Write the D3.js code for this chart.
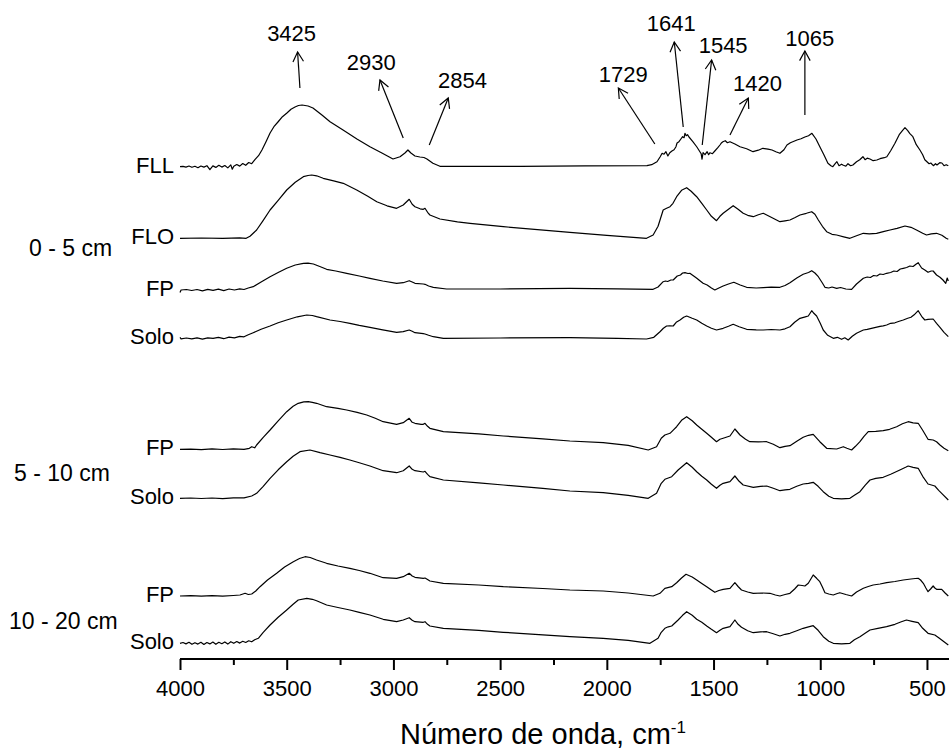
<!DOCTYPE html>
<html>
<head>
<meta charset="utf-8">
<script src="https://cdn.jsdelivr.net/npm/d3@7"></script>
<style>
  html, body { margin: 0; padding: 0; background: #fff; }
  svg { display: block; }
  text { font-family: "Liberation Sans", Arial, sans-serif; fill: #000; }
</style>
</head>
<body>
<svg id="chart" width="949" height="749"></svg>
<script>
// ---------------- DATA ----------------
const traceNames = ["FLL", "FLO", "FP", "Solo", "FP", "Solo", "FP", "Solo"];
const traceOffsets = [4.933, 4.217, 3.70, 3.217, 2.107, 1.617, 0.64, 0.167];
const groupLabels = ["0 - 5 cm", "5 - 10 cm", "10 - 20 cm"];
const majorTicks = [4000, 3500, 3000, 2500, 2000, 1500, 1000, 500];
const minorTicks = [3750, 3250, 2750, 2250, 1750, 1250, 750];
const peakLabels = [3425, 2930, 2854, 1729, 1641, 1545, 1420, 1065];

const specFLL = [[4000,0],[3986,0.004],[3972,-0.004],[3958,0.007],[3944,-0.006],[3930,0.004],[3916,-0.01],[3902,0.007],[3888,-0.004],[3874,0.01],[3860,-0.03],[3846,0.008],[3832,-0.007],[3818,0.014],[3804,-0.004],[3790,0.012],[3776,-0.012],[3762,0.018],[3755,-0.025],[3748,0.004],[3734,0.022],[3720,0.006],[3706,0.032],[3692,0.014],[3678,0.042],[3664,0.03],[3649,0.07],[3632,0.11],[3616,0.167],[3597,0.25],[3578,0.337],[3560,0.40],[3541,0.447],[3520,0.50],[3499,0.537],[3480,0.575],[3461,0.597],[3445,0.612],[3428,0.617],[3400,0.607],[3377,0.587],[3335,0.517],[3297,0.45],[3236,0.367],[3171,0.277],[3110,0.20],[3054,0.137],[3002,0.077],[2969,0.10],[2946,0.137],[2932,0.167],[2918,0.137],[2899,0.107],[2876,0.097],[2857,0.092],[2843,0.077],[2815,0.034],[2782,0.004],[2600,0.003],[2407,0.004],[2100,0.008],[1812,0.01],[1790,0.02],[1765,0.05],[1750,0.10],[1741,0.134],[1732,0.125],[1723,0.15],[1714,0.107],[1705,0.14],[1695,0.157],[1685,0.17],[1676,0.20],[1671,0.237],[1662,0.25],[1653,0.277],[1645,0.30],[1638,0.29],[1634,0.334],[1628,0.31],[1622,0.32],[1615,0.297],[1597,0.25],[1578,0.197],[1564,0.15],[1558,0.13],[1554,0.075],[1549,0.14],[1540,0.12],[1530,0.15],[1523,0.12],[1517,0.14],[1505,0.13],[1494,0.157],[1480,0.19],[1470,0.217],[1462,0.24],[1456,0.25],[1445,0.26],[1435,0.24],[1423,0.25],[1400,0.227],[1376,0.20],[1345,0.18],[1315,0.15],[1290,0.165],[1269,0.184],[1245,0.175],[1226,0.167],[1208,0.15],[1189,0.134],[1170,0.17],[1156,0.217],[1140,0.24],[1109,0.267],[1090,0.28],[1072,0.297],[1055,0.31],[1039,0.334],[1020,0.277],[1002,0.20],[983,0.12],[964,0.034],[950,0.01],[941,0.0],[930,0.03],[922,0.05],[912,0.01],[900,0.025],[894,0.017],[880,0.005],[870,0.03],[858,0.01],[847,0.017],[830,0.05],[815,0.07],[800,0.10],[790,0.07],[780,0.085],[767,0.077],[752,0.06],[735,0.067],[720,0.08],[700,0.09],[688,0.10],[670,0.16],[650,0.234],[630,0.32],[615,0.36],[603,0.39],[590,0.36],[580,0.33],[566,0.30],[550,0.22],[533,0.167],[520,0.12],[510,0.07],[500,0.05],[490,0.03],[482,0.037],[470,0.01],[460,0.03],[453,0.017],[440,0.04],[430,0.037],[420,0.01],[410,0.02],[400,0.01]];

const specFLO = [[4000,0],[3900,0.003],[3800,0.0],[3720,0.005],[3690,0.0],[3672,0.02],[3641,0.083],[3610,0.18],[3578,0.283],[3540,0.38],[3500,0.483],[3460,0.56],[3422,0.616],[3400,0.628],[3383,0.633],[3360,0.625],[3329,0.60],[3280,0.575],[3235,0.55],[3172,0.483],[3120,0.42],[3078,0.366],[3030,0.325],[2985,0.30],[2954,0.333],[2926,0.39],[2912,0.34],[2899,0.316],[2875,0.295],[2860,0.29],[2852,0.30],[2840,0.26],[2829,0.233],[2782,0.193],[2700,0.165],[2641,0.15],[2485,0.116],[2173,0.06],[2000,0.03],[1814,0.0],[1783,0.033],[1760,0.12],[1736,0.283],[1720,0.30],[1704,0.316],[1690,0.35],[1673,0.416],[1650,0.48],[1626,0.506],[1605,0.47],[1579,0.416],[1555,0.35],[1532,0.283],[1510,0.22],[1486,0.176],[1470,0.22],[1455,0.25],[1430,0.29],[1408,0.326],[1385,0.29],[1361,0.25],[1340,0.23],[1314,0.216],[1290,0.235],[1267,0.25],[1230,0.21],[1189,0.166],[1165,0.175],[1142,0.183],[1120,0.205],[1095,0.233],[1065,0.25],[1040,0.266],[1025,0.24],[1009,0.183],[990,0.12],[970,0.066],[945,0.04],[923,0.033],[890,0.015],[861,0.0],[830,0.025],[798,0.05],[770,0.045],[736,0.05],[700,0.07],[673,0.083],[640,0.10],[603,0.123],[575,0.11],[549,0.083],[520,0.05],[502,0.033],[480,0.045],[455,0.05],[430,0.03],[410,0.0],[400,-0.01]];

const specFP1 = [[4000,-0.025],[3995,0.0],[3970,0.005],[3945,-0.005],[3920,0.005],[3895,-0.008],[3870,0.006],[3845,-0.004],[3820,0.008],[3795,-0.006],[3770,0.01],[3745,0.0],[3720,0.012],[3700,0.005],[3680,0.02],[3657,0.033],[3620,0.08],[3578,0.133],[3540,0.175],[3500,0.217],[3460,0.25],[3422,0.267],[3400,0.268],[3375,0.26],[3345,0.235],[3313,0.207],[3270,0.19],[3219,0.167],[3160,0.14],[3110,0.117],[3050,0.09],[2985,0.067],[2954,0.073],[2926,0.093],[2912,0.08],[2899,0.067],[2860,0.06],[2852,0.057],[2835,0.04],[2813,0.027],[2751,0.01],[2500,0.01],[2173,0.017],[1950,0.012],[1783,0.007],[1760,0.03],[1736,0.083],[1725,0.09],[1715,0.085],[1700,0.10],[1689,0.10],[1670,0.14],[1655,0.15],[1645,0.17],[1634,0.173],[1620,0.165],[1611,0.167],[1580,0.12],[1549,0.067],[1530,0.05],[1510,0.02],[1494,0.0],[1475,0.02],[1455,0.04],[1430,0.06],[1405,0.077],[1375,0.05],[1345,0.027],[1300,0.02],[1267,0.023],[1230,0.028],[1189,0.027],[1165,0.045],[1142,0.073],[1110,0.12],[1080,0.157],[1055,0.175],[1040,0.193],[1025,0.17],[1009,0.133],[990,0.07],[978,0.027],[960,0.02],[945,0.03],[923,0.017],[905,0.025],[880,0.01],[853,0.007],[830,0.06],[798,0.117],[780,0.13],[765,0.125],[750,0.145],[735,0.14],[720,0.16],[705,0.155],[689,0.167],[670,0.175],[655,0.19],[640,0.185],[625,0.21],[611,0.217],[595,0.225],[580,0.24],[565,0.235],[550,0.26],[541,0.273],[525,0.22],[510,0.2],[495,0.177],[480,0.19],[471,0.19],[455,0.15],[439,0.127],[425,0.10],[412,0.067],[405,0.12],[400,0.09]];

const specSolo1 = [[4000,0.01],[3995,-0.005],[3970,0.003],[3945,-0.006],[3920,0.004],[3895,-0.008],[3870,0.005],[3845,0.0],[3820,0.01],[3795,-0.004],[3770,0.012],[3745,0.005],[3720,0.02],[3700,0.015],[3680,0.035],[3657,0.056],[3620,0.09],[3578,0.123],[3540,0.155],[3500,0.183],[3450,0.215],[3406,0.233],[3380,0.228],[3360,0.216],[3297,0.183],[3250,0.168],[3204,0.15],[3160,0.13],[3110,0.11],[3050,0.085],[2985,0.06],[2954,0.066],[2926,0.083],[2912,0.07],[2899,0.056],[2860,0.046],[2852,0.043],[2835,0.03],[2813,0.016],[2766,0.0],[2500,0.003],[2173,0.006],[1950,0.0],[1814,-0.007],[1780,0.01],[1751,0.066],[1735,0.10],[1720,0.123],[1705,0.125],[1689,0.123],[1675,0.16],[1657,0.183],[1640,0.21],[1626,0.223],[1600,0.2],[1579,0.183],[1555,0.15],[1532,0.123],[1510,0.1],[1486,0.083],[1455,0.10],[1430,0.12],[1408,0.14],[1380,0.115],[1345,0.09],[1300,0.085],[1267,0.083],[1230,0.088],[1189,0.083],[1165,0.095],[1142,0.116],[1120,0.16],[1095,0.20],[1070,0.215],[1056,0.223],[1040,0.276],[1030,0.25],[1017,0.223],[1000,0.15],[986,0.083],[965,0.03],[939,0.0],[920,0.01],[900,-0.01],[885,0.005],[869,-0.017],[850,0.02],[830,0.05],[798,0.083],[780,0.09],[760,0.1],[740,0.11],[720,0.12],[705,0.125],[689,0.133],[670,0.15],[650,0.155],[630,0.17],[611,0.183],[590,0.2],[575,0.21],[560,0.235],[541,0.276],[525,0.22],[510,0.183],[495,0.19],[471,0.193],[455,0.15],[439,0.11],[420,0.06],[400,0.016]];

const specFP2 = [[4000,0],[3950,0.002],[3900,-0.003],[3850,0.004],[3800,-0.002],[3750,0.004],[3700,0.0],[3675,0.01],[3664,0.026],[3650,0.015],[3641,0.043],[3610,0.12],[3578,0.193],[3540,0.285],[3500,0.376],[3470,0.43],[3446,0.46],[3420,0.474],[3399,0.476],[3380,0.47],[3360,0.46],[3313,0.426],[3260,0.41],[3219,0.393],[3170,0.37],[3125,0.343],[3085,0.31],[3048,0.276],[2985,0.25],[2954,0.266],[2926,0.31],[2912,0.27],[2899,0.26],[2870,0.25],[2860,0.25],[2852,0.26],[2840,0.23],[2829,0.21],[2766,0.176],[2600,0.155],[2485,0.133],[2300,0.105],[2173,0.083],[2017,0.066],[1900,0.04],[1806,-0.007],[1767,0.026],[1745,0.11],[1728,0.143],[1704,0.16],[1690,0.19],[1673,0.226],[1650,0.29],[1626,0.326],[1600,0.285],[1579,0.243],[1555,0.2],[1532,0.16],[1510,0.12],[1486,0.076],[1470,0.1],[1455,0.11],[1423,0.133],[1400,0.203],[1376,0.143],[1350,0.1],[1330,0.076],[1290,0.075],[1251,0.076],[1220,0.05],[1189,0.016],[1165,0.03],[1142,0.036],[1110,0.08],[1080,0.12],[1055,0.14],[1033,0.15],[1002,0.076],[970,0.01],[923,0.003],[892,0.026],[875,0.01],[853,-0.007],[835,0.03],[814,0.076],[795,0.13],[775,0.176],[740,0.18],[705,0.186],[675,0.2],[642,0.226],[615,0.255],[588,0.276],[565,0.265],[541,0.26],[520,0.19],[495,0.10],[471,0.093],[455,0.075],[439,0.043],[420,0.01],[400,-0.014]];

const specSolo2 = [[4000,0],[3950,0.003],[3900,-0.002],[3850,0.003],[3800,-0.003],[3750,0.004],[3700,0.005],[3664,0.023],[3641,0.05],[3610,0.12],[3578,0.20],[3540,0.285],[3500,0.366],[3470,0.42],[3438,0.466],[3391,0.483],[3344,0.456],[3297,0.433],[3250,0.41],[3204,0.383],[3160,0.355],[3110,0.323],[3048,0.276],[2985,0.256],[2954,0.276],[2926,0.323],[2912,0.29],[2899,0.276],[2860,0.263],[2852,0.27],[2840,0.24],[2829,0.216],[2766,0.183],[2600,0.155],[2485,0.133],[2300,0.10],[2173,0.073],[2017,0.056],[1900,0.03],[1806,0.0],[1767,0.05],[1745,0.15],[1728,0.19],[1696,0.216],[1666,0.283],[1626,0.356],[1600,0.31],[1579,0.266],[1555,0.22],[1532,0.183],[1510,0.14],[1486,0.10],[1470,0.13],[1455,0.15],[1423,0.166],[1400,0.223],[1380,0.17],[1361,0.133],[1314,0.11],[1280,0.12],[1251,0.123],[1220,0.1],[1189,0.076],[1165,0.085],[1142,0.09],[1110,0.12],[1080,0.143],[1055,0.15],[1033,0.16],[1010,0.12],[986,0.066],[960,0.02],[939,0.0],[900,-0.005],[861,0.0],[840,0.03],[814,0.066],[790,0.13],[767,0.183],[740,0.2],[705,0.21],[670,0.24],[627,0.283],[600,0.31],[588,0.323],[565,0.31],[541,0.30],[520,0.22],[495,0.143],[463,0.123],[445,0.08],[431,0.05],[400,-0.017]];

const specFP3 = [[4000,0],[3950,0.003],[3900,-0.002],[3850,0.003],[3800,-0.002],[3750,0.005],[3719,0.01],[3705,0.02],[3695,0.027],[3680,0.015],[3664,0.02],[3645,0.05],[3625,0.093],[3590,0.16],[3547,0.227],[3510,0.29],[3469,0.343],[3440,0.375],[3414,0.393],[3390,0.385],[3360,0.36],[3313,0.327],[3260,0.30],[3204,0.277],[3160,0.255],[3110,0.227],[3048,0.183],[2985,0.177],[2954,0.193],[2926,0.227],[2912,0.2],[2899,0.187],[2860,0.177],[2852,0.18],[2840,0.165],[2829,0.15],[2766,0.127],[2600,0.11],[2485,0.093],[2300,0.075],[2173,0.06],[2017,0.05],[1900,0.03],[1783,0.0],[1751,0.027],[1728,0.077],[1696,0.093],[1673,0.133],[1650,0.18],[1629,0.217],[1600,0.19],[1579,0.16],[1555,0.125],[1532,0.093],[1510,0.06],[1494,0.037],[1475,0.055],[1455,0.067],[1423,0.077],[1400,0.133],[1385,0.095],[1369,0.06],[1340,0.04],[1314,0.027],[1270,0.03],[1236,0.027],[1210,0.01],[1189,0.0],[1165,0.015],[1142,0.027],[1120,0.07],[1103,0.11],[1085,0.105],[1072,0.10],[1056,0.127],[1033,0.21],[1017,0.177],[1002,0.143],[990,0.09],[978,0.033],[960,0.02],[939,0.01],[920,0.025],[908,0.033],[880,0.015],[853,0.0],[830,0.04],[798,0.077],[775,0.095],[752,0.11],[720,0.12],[689,0.133],[650,0.145],[611,0.16],[575,0.17],[555,0.175],[541,0.177],[530,0.16],[517,0.127],[505,0.08],[495,0.043],[483,0.07],[471,0.10],[463,0.08],[455,0.067],[431,0.067],[415,0.03],[400,0]];

const specSolo3 = [[4000,0],[3986,0.008],[3972,-0.006],[3958,0.01],[3944,-0.01],[3930,0.006],[3916,-0.008],[3902,0.01],[3888,-0.012],[3874,0.008],[3860,-0.006],[3846,0.012],[3832,-0.01],[3818,0.01],[3804,-0.004],[3790,0.014],[3776,-0.008],[3762,0.016],[3748,0.0],[3734,0.018],[3720,0.002],[3706,0.02],[3692,0.008],[3678,0.025],[3664,0.015],[3650,0.035],[3633,0.05],[3610,0.11],[3578,0.183],[3540,0.26],[3500,0.333],[3470,0.39],[3446,0.433],[3406,0.45],[3380,0.44],[3360,0.426],[3313,0.383],[3260,0.358],[3204,0.333],[3160,0.31],[3110,0.283],[3048,0.24],[2985,0.216],[2954,0.233],[2926,0.256],[2912,0.23],[2899,0.216],[2860,0.21],[2852,0.216],[2840,0.19],[2829,0.173],[2766,0.15],[2600,0.13],[2485,0.11],[2300,0.085],[2173,0.066],[2017,0.05],[1900,0.03],[1798,0.0],[1760,0.05],[1745,0.11],[1728,0.15],[1712,0.165],[1696,0.173],[1666,0.233],[1645,0.28],[1626,0.316],[1600,0.28],[1579,0.24],[1555,0.21],[1532,0.173],[1510,0.14],[1486,0.106],[1470,0.13],[1455,0.15],[1423,0.166],[1400,0.233],[1385,0.19],[1369,0.16],[1340,0.125],[1314,0.106],[1280,0.115],[1251,0.116],[1220,0.095],[1189,0.073],[1165,0.09],[1142,0.10],[1110,0.125],[1080,0.15],[1055,0.165],[1033,0.176],[1010,0.13],[986,0.066],[960,0.02],[939,0.0],[900,-0.005],[861,0.0],[840,0.035],[814,0.066],[790,0.10],[767,0.133],[730,0.15],[689,0.166],[650,0.19],[620,0.215],[596,0.233],[570,0.22],[541,0.206],[520,0.15],[495,0.10],[463,0.083],[445,0.055],[431,0.033],[400,-0.017]];

const spectra = [specFLL, specFLO, specFP1, specSolo1, specFP2, specSolo2, specFP3, specSolo3];

// ---------------- LAYOUT ----------------
const W = 949, H = 749;
const axisY = 659;
const FONT = 22;
const groupLayout = [ {x: 29, y: 256}, {x: 14, y: 481}, {x: 9, y: 629} ];
// arrow tails / tips (wavenumber for x, pixel for y) and label positions
const annLayout = [
  {tailW:3438, tailY:88,  tipW:3449, tipY:52, textW:3477, textY:33},
  {tailW:2954, tailY:138, tipW:3063, tipY:80, textW:3104, textY:62},
  {tailW:2832, tailY:145, tipW:2743, tipY:98, textW:2676, textY:80},
  {tailW:1775, tailY:144, tipW:1946, tipY:88, textW:1923, textY:74},
  {tailW:1642, tailY:127, tipW:1684, tipY:42, textW:1698, textY:23},
  {tailW:1553, tailY:145, tipW:1509, tipY:60, textW:1455, textY:45},
  {tailW:1423, tailY:135, tipW:1337, tipY:98, textW:1294, textY:83},
  {tailW:1072, tailY:115, tipW:1072, tipY:51, textW:1049, textY:38}
];

const svg = d3.select("#chart");

const x = d3.scaleLinear().domain([4000, 400]).range([180, 948.3]);
const y = d3.scaleLinear().domain([0, 6]).range([660, 60]);

// spectra
const line = d3.line()
  .x(d => x(d[0]))
  .y(d => d[1]);

spectra.forEach((spec, i) => {
  const off = traceOffsets[i];
  svg.append("path")
    .attr("d", line(spec.map(p => [p[0], y(off + p[1])])))
    .attr("fill", "none")
    .attr("stroke", "#000")
    .attr("stroke-width", 1.2)
    .attr("stroke-linejoin", "round");
  svg.append("text")
    .attr("x", 174)
    .attr("y", y(off) + 6)
    .attr("text-anchor", "end")
    .attr("font-size", FONT)
    .text(traceNames[i]);
});

// group labels
groupLabels.forEach((g, i) => {
  svg.append("text")
    .attr("x", groupLayout[i].x)
    .attr("y", groupLayout[i].y)
    .attr("font-size", 23)
    .text(g);
});

// axis
const axisG = svg.append("g").attr("transform", `translate(0,${axisY})`);
axisG.call(d3.axisBottom(x).tickValues(majorTicks).tickSize(11).tickSizeOuter(0).tickPadding(10).tickFormat(d3.format("d")));
axisG.select(".domain").attr("stroke", "#000").attr("stroke-width", 2).attr("d", `M180,0H${W}`);
axisG.selectAll(".tick line").attr("stroke", "#000").attr("stroke-width", 2);
axisG.selectAll(".tick text").attr("font-size", FONT).attr("font-family", "Liberation Sans, Arial, sans-serif").attr("fill", "#000");

const minorG = svg.append("g").attr("transform", `translate(0,${axisY})`);
minorG.call(d3.axisBottom(x).tickValues(minorTicks).tickSize(6).tickSizeOuter(0).tickFormat(""));
minorG.select(".domain").remove();
minorG.selectAll(".tick line").attr("stroke", "#000").attr("stroke-width", 2);

// axis title
const title = svg.append("text")
  .attr("x", 543)
  .attr("y", 744)
  .attr("text-anchor", "middle")
  .attr("font-size", 29);
title.append("tspan").text("Número de onda, cm");
title.append("tspan").attr("font-size", 17).attr("dy", -11).text("-1");

// peak annotations
peakLabels.forEach((p, i) => {
  const a = annLayout[i];
  const x1 = x(a.tailW), y1 = a.tailY, x2 = x(a.tipW), y2 = a.tipY;
  svg.append("line")
    .attr("x1", x1).attr("y1", y1).attr("x2", x2).attr("y2", y2)
    .attr("stroke", "#000").attr("stroke-width", 1.2);
  const ang = Math.atan2(y1 - y2, x1 - x2);
  const L = 11, sp = 0.5;
  const hx1 = x2 + L * Math.cos(ang + sp), hy1 = y2 + L * Math.sin(ang + sp);
  const hx2 = x2 + L * Math.cos(ang - sp), hy2 = y2 + L * Math.sin(ang - sp);
  svg.append("path")
    .attr("d", `M${hx1},${hy1}L${x2},${y2}L${hx2},${hy2}`)
    .attr("fill", "none").attr("stroke", "#000").attr("stroke-width", 1.2);
  svg.append("text")
    .attr("x", x(a.textW))
    .attr("y", a.textY + 8)
    .attr("text-anchor", "middle")
    .attr("font-size", FONT)
    .text(p);
});
</script>
</body>
</html>
